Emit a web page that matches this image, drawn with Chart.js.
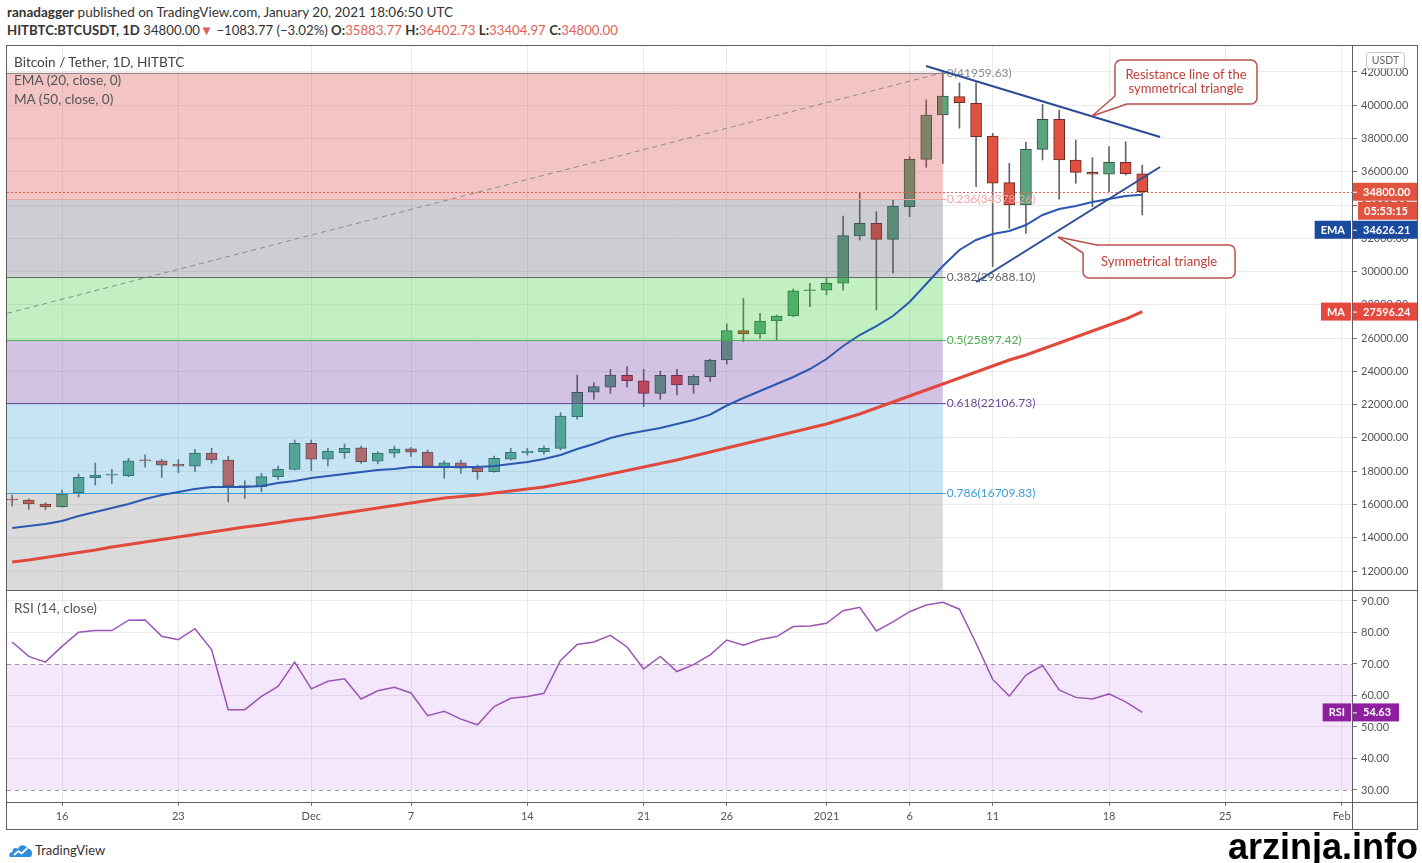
<!DOCTYPE html>
<html>
<head>
<meta charset="utf-8">
<title>BTCUSDT 1D</title>
<script src="https://cdn.jsdelivr.net/npm/chart.js@4.4.1/dist/chart.umd.min.js"></script>
<style>
  html, body { margin: 0; padding: 0; background: #fff; }
  body { width: 1422px; height: 863px; position: relative; overflow: hidden; font-family: Lato, "Open Sans", sans-serif; color: #333; }
  .abs { position: absolute; white-space: nowrap; }
  #hdr1 { left: 7px; top: 4px; font-size: 13.5px; }
  #hdr2 { left: 7px; top: 22px; font-size: 13.2px; }
  .red { color: #e05f5a; }
  .legend { left: 14px; font-size: 13.6px; color: #555; line-height: 16px; }
  .ln { position: absolute; background: #5e5e5e; }
  canvas { position: absolute; left: 0; }
</style>
</head>
<body>
<div id="hdr1" class="abs"><b>ranadagger</b> published on TradingView.com, January 20, 2021 18:06:50 UTC</div>
<div id="hdr2" class="abs"><b>HITBTC:BTCUSDT, 1D</b> 34800.00<span class="red">▼</span> −1083.77 (−3.02%) <b>O:</b><span class="red">35883.77</span> <b>H:</b><span class="red">36402.73</span> <b>L:</b><span class="red">33404.97</span> <b>C:</b><span class="red">34800.00</span></div>

<canvas id="priceChart" width="1422" height="545" style="top:45px"></canvas>
<canvas id="rsiChart" width="1422" height="240" style="top:590px"></canvas>

<!-- pane frame -->
<div class="ln" style="left:6px;top:45px;width:1411px;height:1px"></div>
<div class="ln" style="left:6px;top:829px;width:1411px;height:1px"></div>
<div class="ln" style="left:6px;top:45px;width:1px;height:785px"></div>
<div class="ln" style="left:1417px;top:45px;width:1px;height:785px"></div>
<div class="ln" style="left:6px;top:590px;width:1411px;height:1px"></div>
<div class="ln" style="left:6px;top:802px;width:1411px;height:1px"></div>
<div class="ln" style="left:1352px;top:45px;width:1px;height:785px"></div>

<div class="abs legend" style="top:54px;color:#444">Bitcoin / Tether, 1D, HITBTC</div>
<div class="abs legend" style="top:72px">EMA (20, close, 0)</div>
<div class="abs legend" style="top:91px">MA (50, close, 0)</div>
<div class="abs legend" style="top:600px">RSI (14, close)</div>

<div class="abs" style="left:9px;top:842px">
  <svg width="24" height="16" viewBox="0 0 24 16"><path d="M2 15 C-1 15 0 10 3.5 10 C3 6 7 5 9 7 C10 2 17 2 18 6.5 C22 6 25 11 21.5 15 Z" fill="#2e8ee0"/><path d="M5 13 L9.5 9 L12.5 11.5 L18 6.5" stroke="#fff" stroke-width="1.7" fill="none"/></svg>
</div>
<div class="abs" style="left:35px;top:842px;font-size:13px;color:#333">TradingView</div>
<div class="abs" style="right:4px;top:826px;font-family:'Liberation Sans',Arial,sans-serif;font-weight:bold;font-size:36px;color:#000">arzinja.info</div>

<script>
// daily candles, 13 Nov 2020 .. 20 Jan 2021 (index 0 = 13 Nov)
const opens  = [16290, 16270, 16030, 15865, 16710, 17610, 17760, 17730, 18640, 18631,
                18420, 18310, 19090, 18670, 17110, 17070, 17670, 18114, 19680, 18720,
                19110, 19410, 18610, 19090, 19340, 19150, 18235, 18510, 18210, 17970,
                18730, 19110, 19170, 19375, 21280, 22745, 23045, 23765, 23440, 22680,
                23765, 23180, 23680, 24685, 26450, 26250, 27030, 27330, 28850, 28890,
                29300, 32140, 32900, 31940, 33900, 36750, 39415, 40515, 40110, 38150,
                35350, 34010, 37350, 39150, 36710, 35970, 35850, 36570, 35883.77];
const highs  = [16570, 16330, 16100, 16870, 17830, 18490, 18115, 18775, 18980, 18715,
                18700, 19316, 19375, 18900, 17430, 17874, 18313, 19875, 19875, 19375,
                19635, 19515, 19170, 19515, 19435, 19275, 18630, 18673, 18373, 18914,
                19375, 19375, 19515, 21520, 23785, 23320, 24125, 24285, 24125, 24020,
                24125, 23800, 24720, 26850, 28390, 27490, 27380, 28950, 29300, 29660,
                33340, 34745, 33600, 34350, 36910, 40320, 41959.63, 41350, 41350, 38310,
                36510, 37770, 40050, 39710, 37910, 36850, 37510, 37810, 36402.73];
const lows   = [15900, 15700, 15700, 15840, 16450, 17170, 17270, 17670, 18235, 17630,
                17910, 17970, 18475, 16150, 16370, 16770, 17513, 18072, 18030, 18313,
                18775, 18475, 18433, 18835, 18872, 18270, 17573, 17874, 17513, 17940,
                18673, 18974, 19020, 19280, 21120, 22320, 22680, 23045, 21880, 22320,
                22580, 22680, 23380, 24445, 25785, 25990, 25890, 27290, 27890, 28600,
                28890, 31900, 27690, 29900, 33300, 36270, 36510, 38620, 35100, 30300,
                32600, 32300, 36710, 34360, 35310, 33900, 34800, 35800, 33404.97];
const closes = [16270, 16030, 15860, 16630, 17633, 17772, 17790, 18631, 18620, 18370,
                18310, 19090, 18680, 17110, 17070, 17670, 18114, 19680, 18730, 19215,
                19375, 18570, 19090, 19330, 19150, 18310, 18510, 18175, 17970, 18775,
                19140, 19215, 19375, 21320, 22745, 23080, 23785, 23440, 22680, 23765,
                23180, 23720, 24685, 26450, 26250, 27030, 27330, 28850, 28880, 29300,
                32160, 32900, 31940, 33940, 36750, 39415, 40555, 40150, 38110, 35310,
                34010, 37350, 39150, 36710, 35970, 35850, 36570, 35883.77, 34800];

// indicator values
const ema20 = [14585, 14705, 14826, 15006, 15307, 15547, 15788, 16028, 16329, 16569,
               16750, 16930, 17050, 17050, 17050, 17110, 17291, 17411, 17591, 17711,
               17832, 17952, 18072, 18132, 18252, 18252, 18252, 18252, 18252, 18313,
               18433, 18553, 18733, 18974, 19335, 19635, 19996, 20236, 20417, 20597,
               20838, 21078, 21400, 21950, 22401, 22822, 23242, 23663, 24144, 24745,
               25527, 26188, 26729, 27331, 28172, 29254, 30337, 31299, 31900, 32260,
               32441, 32802, 33403, 33763, 33944, 34184, 34365, 34545, 34626.21];
const ma50  = [12541, 12661, 12812, 12962, 13112, 13263, 13443, 13593, 13743, 13894,
               14044, 14194, 14345, 14495, 14645, 14766, 14916, 15066, 15187, 15337,
               15487, 15637, 15788, 15938, 16088, 16238, 16389, 16479, 16569, 16689,
               16810, 16930, 17050, 17230, 17411, 17621, 17832, 18042, 18252, 18463,
               18673, 18914, 19154, 19395, 19635, 19876, 20116, 20357, 20597, 20838,
               21138, 21439, 21800, 22160, 22521, 22882, 23242, 23603, 23964, 24325,
               24685, 24986, 25347, 25707, 26068, 26429, 26790, 27150, 27596.24];
const rsi14 = [77.0, 72.4, 70.6, 75.6, 80.1, 80.6, 80.6, 83.9, 84.0, 78.8,
               77.7, 81.2, 74.6, 55.5, 55.5, 59.7, 62.9, 70.6, 62.1, 64.5,
               65.3, 58.9, 61.5, 62.6, 60.8, 53.6, 55.0, 52.5, 50.7, 56.5,
               59.1, 59.7, 60.7, 71.1, 76.2, 77.0, 79.1, 75.4, 68.4, 72.4,
               67.6, 69.8, 72.9, 77.6, 76.0, 77.8, 78.7, 81.9, 82.1, 82.9,
               86.9, 88.0, 80.5, 83.4, 86.6, 88.7, 89.6, 87.4, 76.6, 65.1,
               59.8, 66.5, 69.5, 61.8, 59.4, 58.9, 60.5, 58.0, 54.63];

// axes
const xTickDays   = [3, 10, 18, 24, 31, 38, 43, 49, 54, 59, 66, 73, 80];
const xTickLabels = ['16', '23', 'Dec', '7', '14', '21', '26', '2021', '6', '11', '18', '25', 'Feb'];
const xRange      = [-0.31, 80.62];
const priceTicks  = [12000, 14000, 16000, 18000, 20000, 22000, 24000, 26000,
                     28000, 30000, 32000, 34000, 36000, 38000, 40000, 42000];
const priceRange  = [10858, 43623];
const rsiTicks    = [30, 40, 50, 60, 70, 80, 90];
const rsiRange    = [26.19, 93.49];

// fibonacci retracement drawing
const fibRatios = [0, 0.236, 0.382, 0.5, 0.618, 0.786, 1];
const fibPrices = [41959.63, 34378.26, 29688.10, 25897.42, 22106.73, 16709.83, 9835.20];
const fibStartDay = -69;
const fibEndDay = 56;
const fibFills = ['rgba(212,58,58,0.3)', 'rgba(88,88,112,0.3)', 'rgba(52,205,52,0.3)',
                  'rgba(112,52,165,0.3)', 'rgba(65,165,215,0.3)', 'rgba(132,132,132,0.3)'];
const fibLineColors = ['#8c8c8c', '#f0a3a3', '#666666', '#4caf50', '#6a4c9c', '#35a0d8', '#8c8c8c'];

// triangle trend lines: [day, price] pairs
const resistanceLine = [[54.99, 42361], [69.07, 38092]];
const supportLine    = [[58.0, 29375], [69.07, 36288]];

const notes = [
    { lines: ['Resistance line of the', 'symmetrical triangle'], at: [70.63, 41399], w: 142, h: 44,
      tip: [64.98, 39355], b1: [0, 36], b2: [12, 44] },
    { lines: ['Symmetrical triangle'], at: [69.01, 30607], w: 152, h: 33,
      tip: [62.93, 32080], b1: [0, 8], b2: [14, 0] }
];

const upFill = '#5ba47d', downFill = '#df5140';
const upEdge = '#2f5a46', downEdge = '#6e2b22';
const last = closes.length - 1;

Chart.defaults.font.family = 'Lato, "Open Sans", sans-serif';

function tagBox(ctx, y, text, bg, label, left) {
    const h = 18;
    ctx.font = 'bold 11px Lato';
    ctx.textBaseline = 'middle';
    const x0 = left || 1353;
    const w = Math.max(ctx.measureText(text).width + 16, 1417 - x0 - (text.length > 6 ? 0 : 18));
    ctx.fillStyle = bg;
    ctx.fillRect(x0, y - h / 2, w, h);
    ctx.fillStyle = '#fff';
    ctx.textAlign = 'left';
    ctx.fillText(text, x0 + (left ? 6 : 10), y + 0.5);
    if (!left) {
        ctx.strokeStyle = '#fff';
        ctx.lineWidth = 1;
        ctx.beginPath(); ctx.moveTo(1353, y + 0.5); ctx.lineTo(1357, y + 0.5); ctx.stroke();
    }
    if (label) {
        const lw = ctx.measureText(label).width + 12;
        ctx.fillStyle = bg;
        ctx.fillRect(1351 - lw, y - h / 2, lw, h);
        ctx.fillStyle = '#fff';
        ctx.textAlign = 'center';
        ctx.fillText(label, 1351 - lw / 2, y + 0.5);
    }
}

function segment(ctx, x1, y1, x2, y2) {
    ctx.beginPath(); ctx.moveTo(x1, y1); ctx.lineTo(x2, y2); ctx.stroke();
}

const pricePlugin = {
    id: 'priceDrawings',
    afterDatasetDraw(chart, args) {
        if (args.index !== 1) return;
        // fib bands overlay the candles
        const { ctx, chartArea: a, scales: { x, y } } = chart;
        const xl = a.left, xr = x.getPixelForValue(fibEndDay);
        ctx.save();
        ctx.beginPath(); ctx.rect(a.left, a.top, a.width, a.height); ctx.clip();
        for (let k = 0; k < fibPrices.length - 1; k++) {
            const y1 = y.getPixelForValue(fibPrices[k]);
            const y2 = y.getPixelForValue(fibPrices[k + 1]);
            ctx.fillStyle = fibFills[k];
            ctx.fillRect(xl, y1, xr - xl, y2 - y1);
        }
        ctx.lineWidth = 1;
        fibPrices.forEach((p, k) => {
            const yy = Math.round(y.getPixelForValue(p)) + 0.5;
            ctx.strokeStyle = fibLineColors[k];
            segment(ctx, xl, yy, xr + 3, yy);
        });
        ctx.strokeStyle = '#8a8a8a';
        ctx.setLineDash([5, 4]);
        segment(ctx, x.getPixelForValue(fibStartDay), y.getPixelForValue(fibPrices[6]),
                xr, y.getPixelForValue(fibPrices[0]));
        ctx.setLineDash([]);
        ctx.restore();

        ctx.save();
        ctx.font = '12px Lato';
        ctx.textBaseline = 'middle';
        ctx.textAlign = 'left';
        for (let k = 0; k < fibPrices.length - 1; k++) {
            ctx.fillStyle = fibLineColors[k];
            ctx.fillText(fibRatios[k] + '(' + fibPrices[k].toFixed(2) + ')', xr + 4, y.getPixelForValue(fibPrices[k]));
        }
        ctx.restore();
    },
    afterDatasetsDraw(chart) {
        const { ctx, chartArea: a, scales: { x, y } } = chart;
        ctx.save();
        // last price line
        const py = Math.round(y.getPixelForValue(closes[last])) + 0.5;
        ctx.strokeStyle = '#e0604f';
        ctx.lineWidth = 1;
        ctx.setLineDash([2, 2]);
        segment(ctx, a.left, py, a.right, py);
        ctx.setLineDash([]);

        // triangle
        ctx.strokeStyle = '#2b4c94';
        ctx.lineWidth = 2;
        [resistanceLine, supportLine].forEach(l => {
            segment(ctx, x.getPixelForValue(l[0][0]), y.getPixelForValue(l[0][1]),
                    x.getPixelForValue(l[1][0]), y.getPixelForValue(l[1][1]));
        });

        // callouts
        notes.forEach(n => {
            const bx = x.getPixelForValue(n.at[0]) - n.w / 2;
            const by = y.getPixelForValue(n.at[1]) - n.h / 2;
            const tx = x.getPixelForValue(n.tip[0]), ty = y.getPixelForValue(n.tip[1]);
            const p1 = [bx + n.b1[0], by + n.b1[1]], p2 = [bx + n.b2[0], by + n.b2[1]];
            ctx.lineWidth = 1.5;
            ctx.strokeStyle = '#b8514d';
            ctx.fillStyle = '#fff';
            ctx.beginPath();
            ctx.roundRect(bx, by, n.w, n.h, 6);
            ctx.fill(); ctx.stroke();
            ctx.beginPath();
            ctx.moveTo(tx, ty); ctx.lineTo(p1[0], p1[1]); ctx.lineTo(p2[0], p2[1]); ctx.closePath();
            ctx.fill();
            segment(ctx, tx, ty, p1[0], p1[1]);
            segment(ctx, tx, ty, p2[0], p2[1]);
            ctx.fillStyle = '#c23c36';
            ctx.font = '13px Lato';
            ctx.textAlign = 'center';
            ctx.textBaseline = 'middle';
            const lh = 14;
            n.lines.forEach((t, i) => {
                ctx.fillText(t, bx + n.w / 2, by + n.h / 2 + (i - (n.lines.length - 1) / 2) * lh);
            });
        });
        ctx.restore();
    },
    afterDraw(chart) {
        const { ctx, scales: { y } } = chart;
        ctx.save();
        // currency box
        ctx.fillStyle = '#fff';
        ctx.strokeStyle = '#c4c4c4';
        ctx.lineWidth = 1;
        ctx.beginPath(); ctx.roundRect(1366.5, 7.5, 38, 16, 3); ctx.fill(); ctx.stroke();
        ctx.fillStyle = '#666';
        ctx.font = '10.5px Lato';
        ctx.textAlign = 'center';
        ctx.textBaseline = 'middle';
        ctx.fillText('USDT', 1385.5, 16);

        // axis tags, pushed down when they overlap
        const py = y.getPixelForValue(closes[last]);
        tagBox(ctx, py, closes[last].toFixed(2), '#e0533f');
        const cy = py + 19;
        tagBox(ctx, cy, '05:53:15', '#e0533f', null, 1358);
        const ey = Math.max(y.getPixelForValue(ema20[last]), cy + 19);
        tagBox(ctx, ey, ema20[last].toFixed(2), '#1a4a9e', 'EMA');
        const my = Math.max(y.getPixelForValue(ma50[last]), ey + 19);
        tagBox(ctx, my, ma50[last].toFixed(2), '#e5483c', 'MA');
        ctx.restore();
    }
};

const rsiPlugin = {
    id: 'rsiBand',
    beforeDatasetsDraw(chart) {
        const { ctx, chartArea: a, scales: { y } } = chart;
        const y70 = y.getPixelForValue(70), y30 = y.getPixelForValue(30);
        ctx.save();
        ctx.fillStyle = 'rgba(155,38,222,0.11)';
        ctx.fillRect(a.left, y70, a.width, y30 - y70);
        ctx.strokeStyle = '#9a9a9a';
        ctx.lineWidth = 1;
        ctx.setLineDash([4, 4]);
        [y70, y30].forEach(v => segment(ctx, a.left, Math.round(v) + 0.5, a.right, Math.round(v) + 0.5));
        ctx.restore();
    },
    afterDraw(chart) {
        const { ctx, scales: { y } } = chart;
        ctx.save();
        tagBox(ctx, y.getPixelForValue(rsi14[last]), rsi14[last].toFixed(2), '#8e1f9e', 'RSI');
        ctx.restore();
    }
};

function xScale(showTicks) {
    return {
        type: 'linear',
        min: xRange[0],
        max: xRange[1],
        offset: false,
        border: { display: false },
        grid: { color: '#ebebeb', offset: false, drawTicks: showTicks, tickLength: 4, tickColor: '#777' },
        ticks: {
            display: showTicks,
            autoSkip: false,
            maxRotation: 0,
            padding: 4,
            color: '#555',
            font: { size: 11 },
            callback: (v, i) => xTickLabels[i]
        },
        afterBuildTicks: s => { s.ticks = xTickDays.map(v => ({ value: v })); },
        afterFit: s => {
            s.height = showTicks ? 28 : 0;
            s.paddingLeft = 0; s.paddingRight = 0; s.paddingTop = 0; s.paddingBottom = 0;
        }
    };
}

function yScale(range, ticks, decimals) {
    return {
        position: 'right',
        min: range[0],
        max: range[1],
        beginAtZero: false,
        border: { display: false },
        grid: { color: '#ebebeb', tickLength: 5, tickColor: '#777' },
        ticks: { color: '#555', font: { size: 11 }, padding: 4, callback: v => v.toFixed(decimals) },
        afterBuildTicks: s => { s.ticks = ticks.map(v => ({ value: v })); },
        afterFit: s => {
            s.width = 70;
            s.paddingTop = 0; s.paddingBottom = 0; s.paddingLeft = 0; s.paddingRight = 0;
        }
    };
}

const up = opens.map((o, i) => closes[i] >= o);

new Chart(document.getElementById('priceChart'), {
    type: 'bar',
    data: {
        datasets: [{
            label: 'wick',
            data: lows.map((l, i) => ({ x: i, y: [l, highs[i]] })),
            backgroundColor: '#666',
            barThickness: 1,
            grouped: false,
            order: 4
        }, {
            label: 'BTCUSDT',
            data: opens.map((o, i) => ({ x: i, y: [o, closes[i]] })),
            backgroundColor: up.map(u => u ? upFill : downFill),
            borderColor: up.map(u => u ? upEdge : downEdge),
            borderWidth: 1,
            borderSkipped: false,
            barThickness: 11,
            minBarLength: 1,
            grouped: false,
            order: 3
        }, {
            type: 'line',
            label: 'EMA (20)',
            data: ema20.map((v, i) => ({ x: i, y: v })),
            borderColor: '#2b58b0',
            borderWidth: 2,
            pointRadius: 0,
            tension: 0,
            order: 2
        }, {
            type: 'line',
            label: 'MA (50)',
            data: ma50.map((v, i) => ({ x: i, y: v })),
            borderColor: '#e2493d',
            borderWidth: 3,
            pointRadius: 0,
            tension: 0,
            order: 1
        }]
    },
    options: {
        responsive: false,
        animation: false,
        devicePixelRatio: 1,
        layout: { padding: { left: 7, right: 0, top: 0, bottom: 0 }, autoPadding: false },
        plugins: { legend: { display: false }, tooltip: { enabled: false } },
        scales: { x: xScale(false), y: yScale(priceRange, priceTicks, 2) }
    },
    plugins: [pricePlugin]
});

const rsiY = yScale(rsiRange, rsiTicks, 2);
rsiY.grid.color = c => (c.tick && (c.tick.value === 70 || c.tick.value === 30)) ? 'rgba(0,0,0,0)' : '#ebebeb';

new Chart(document.getElementById('rsiChart'), {
    type: 'line',
    data: {
        datasets: [{
            label: 'RSI (14)',
            data: rsi14.map((v, i) => ({ x: i, y: v })),
            borderColor: '#9b55b5',
            borderWidth: 1.5,
            pointRadius: 0,
            tension: 0
        }]
    },
    options: {
        responsive: false,
        animation: false,
        devicePixelRatio: 1,
        layout: { padding: { left: 7, right: 0, top: 0, bottom: 0 }, autoPadding: false },
        plugins: { legend: { display: false }, tooltip: { enabled: false } },
        scales: { x: xScale(true), y: rsiY }
    },
    plugins: [rsiPlugin]
});
</script>
</body>
</html>
